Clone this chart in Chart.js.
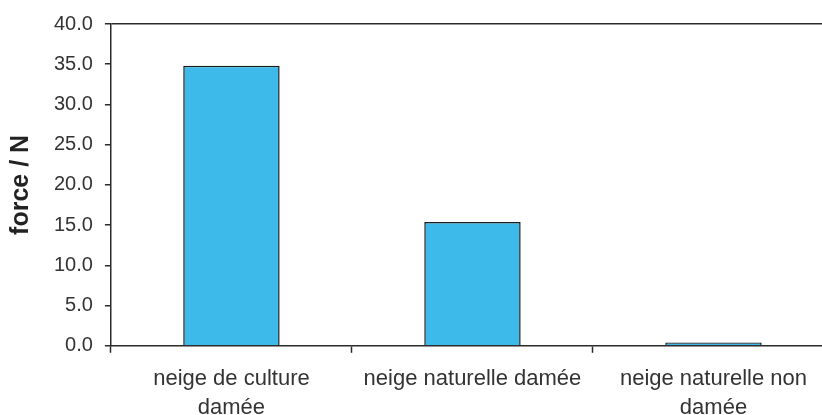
<!DOCTYPE html>
<html>
<head>
<meta charset="utf-8">
<script src="https://cdn.jsdelivr.net/npm/chart.js@4.4.1/dist/chart.umd.min.js"></script>
<style>
  html, body { margin: 0; padding: 0; background: #fff; overflow: hidden; }
  #wrap { position: relative; width: 834px; height: 415px; }
</style>
</head>
<body>
<div id="wrap"><canvas id="forceChart"></canvas></div>
<script>
// catégories (libellés sur deux lignes)
const categories = [
    ["neige de culture", "damée"],
    ["neige naturelle damée"],
    ["neige naturelle non", "damée"]
];
const forceValues = [34.8, 15.4, 0.4];
const yTicks = [0, 5, 10, 15, 20, 25, 30, 35, 40];

const ink = "#2b2b2b";
const ctx = document.getElementById("forceChart").getContext("2d");

new Chart(ctx, {
    type: "bar",
    data: {
        labels: categories,
        datasets: [{
            label: "force",
            data: forceValues,
            backgroundColor: "#3dbae9",
            borderColor: "#1c1c1c",
            borderWidth: 1.5,
            barPercentage: 0.5,
            categoryPercentage: 0.8
        }]
    },
    options: {
        responsive: true,
        maintainAspectRatio: false,
        animation: false,
        layout: { padding: { top: 17, left: 6, right: 0, bottom: -19 } },
        plugins: {
            legend: { display: false },
            tooltip: { enabled: false }
        },
        scales: {
            x: {
                grid: {
                    offset: true,
                    drawOnChartArea: false,
                    tickLength: 7,
                    tickColor: ink,
                    tickWidth: 1.5
                },
                border: { color: ink, width: 1.5 },
                ticks: {
                    color: "#333",
                    font: { family: "Liberation Sans, Arial, sans-serif", size: 22, lineHeight: 1.3 },
                    padding: 12,
                    maxRotation: 0,
                    autoSkip: false
                }
            },
            y: {
                min: yTicks[0],
                max: yTicks[yTicks.length - 1],
                afterBuildTicks: axis => {
                    axis.ticks = yTicks.map(v => ({ value: v }));
                },
                grid: {
                    color: c => (c.tick && c.tick.value === 40 ? ink : "transparent"),
                    lineWidth: 1.5,
                    tickLength: 6,
                    tickColor: ink,
                    tickWidth: 1.5
                },
                border: { color: ink, width: 1.5 },
                ticks: {
                    color: "#333",
                    font: { family: "Liberation Sans, Arial, sans-serif", size: 20 },
                    padding: 12,
                    callback: v => Number(v).toFixed(1)
                },
                title: {
                    display: true,
                    text: "force / N",
                    color: "#222",
                    font: { family: "Liberation Sans, Arial, sans-serif", size: 25, weight: "bold" },
                    padding: { top: 0, bottom: 6 }
                }
            }
        }
    }
});
</script>
</body>
</html>
